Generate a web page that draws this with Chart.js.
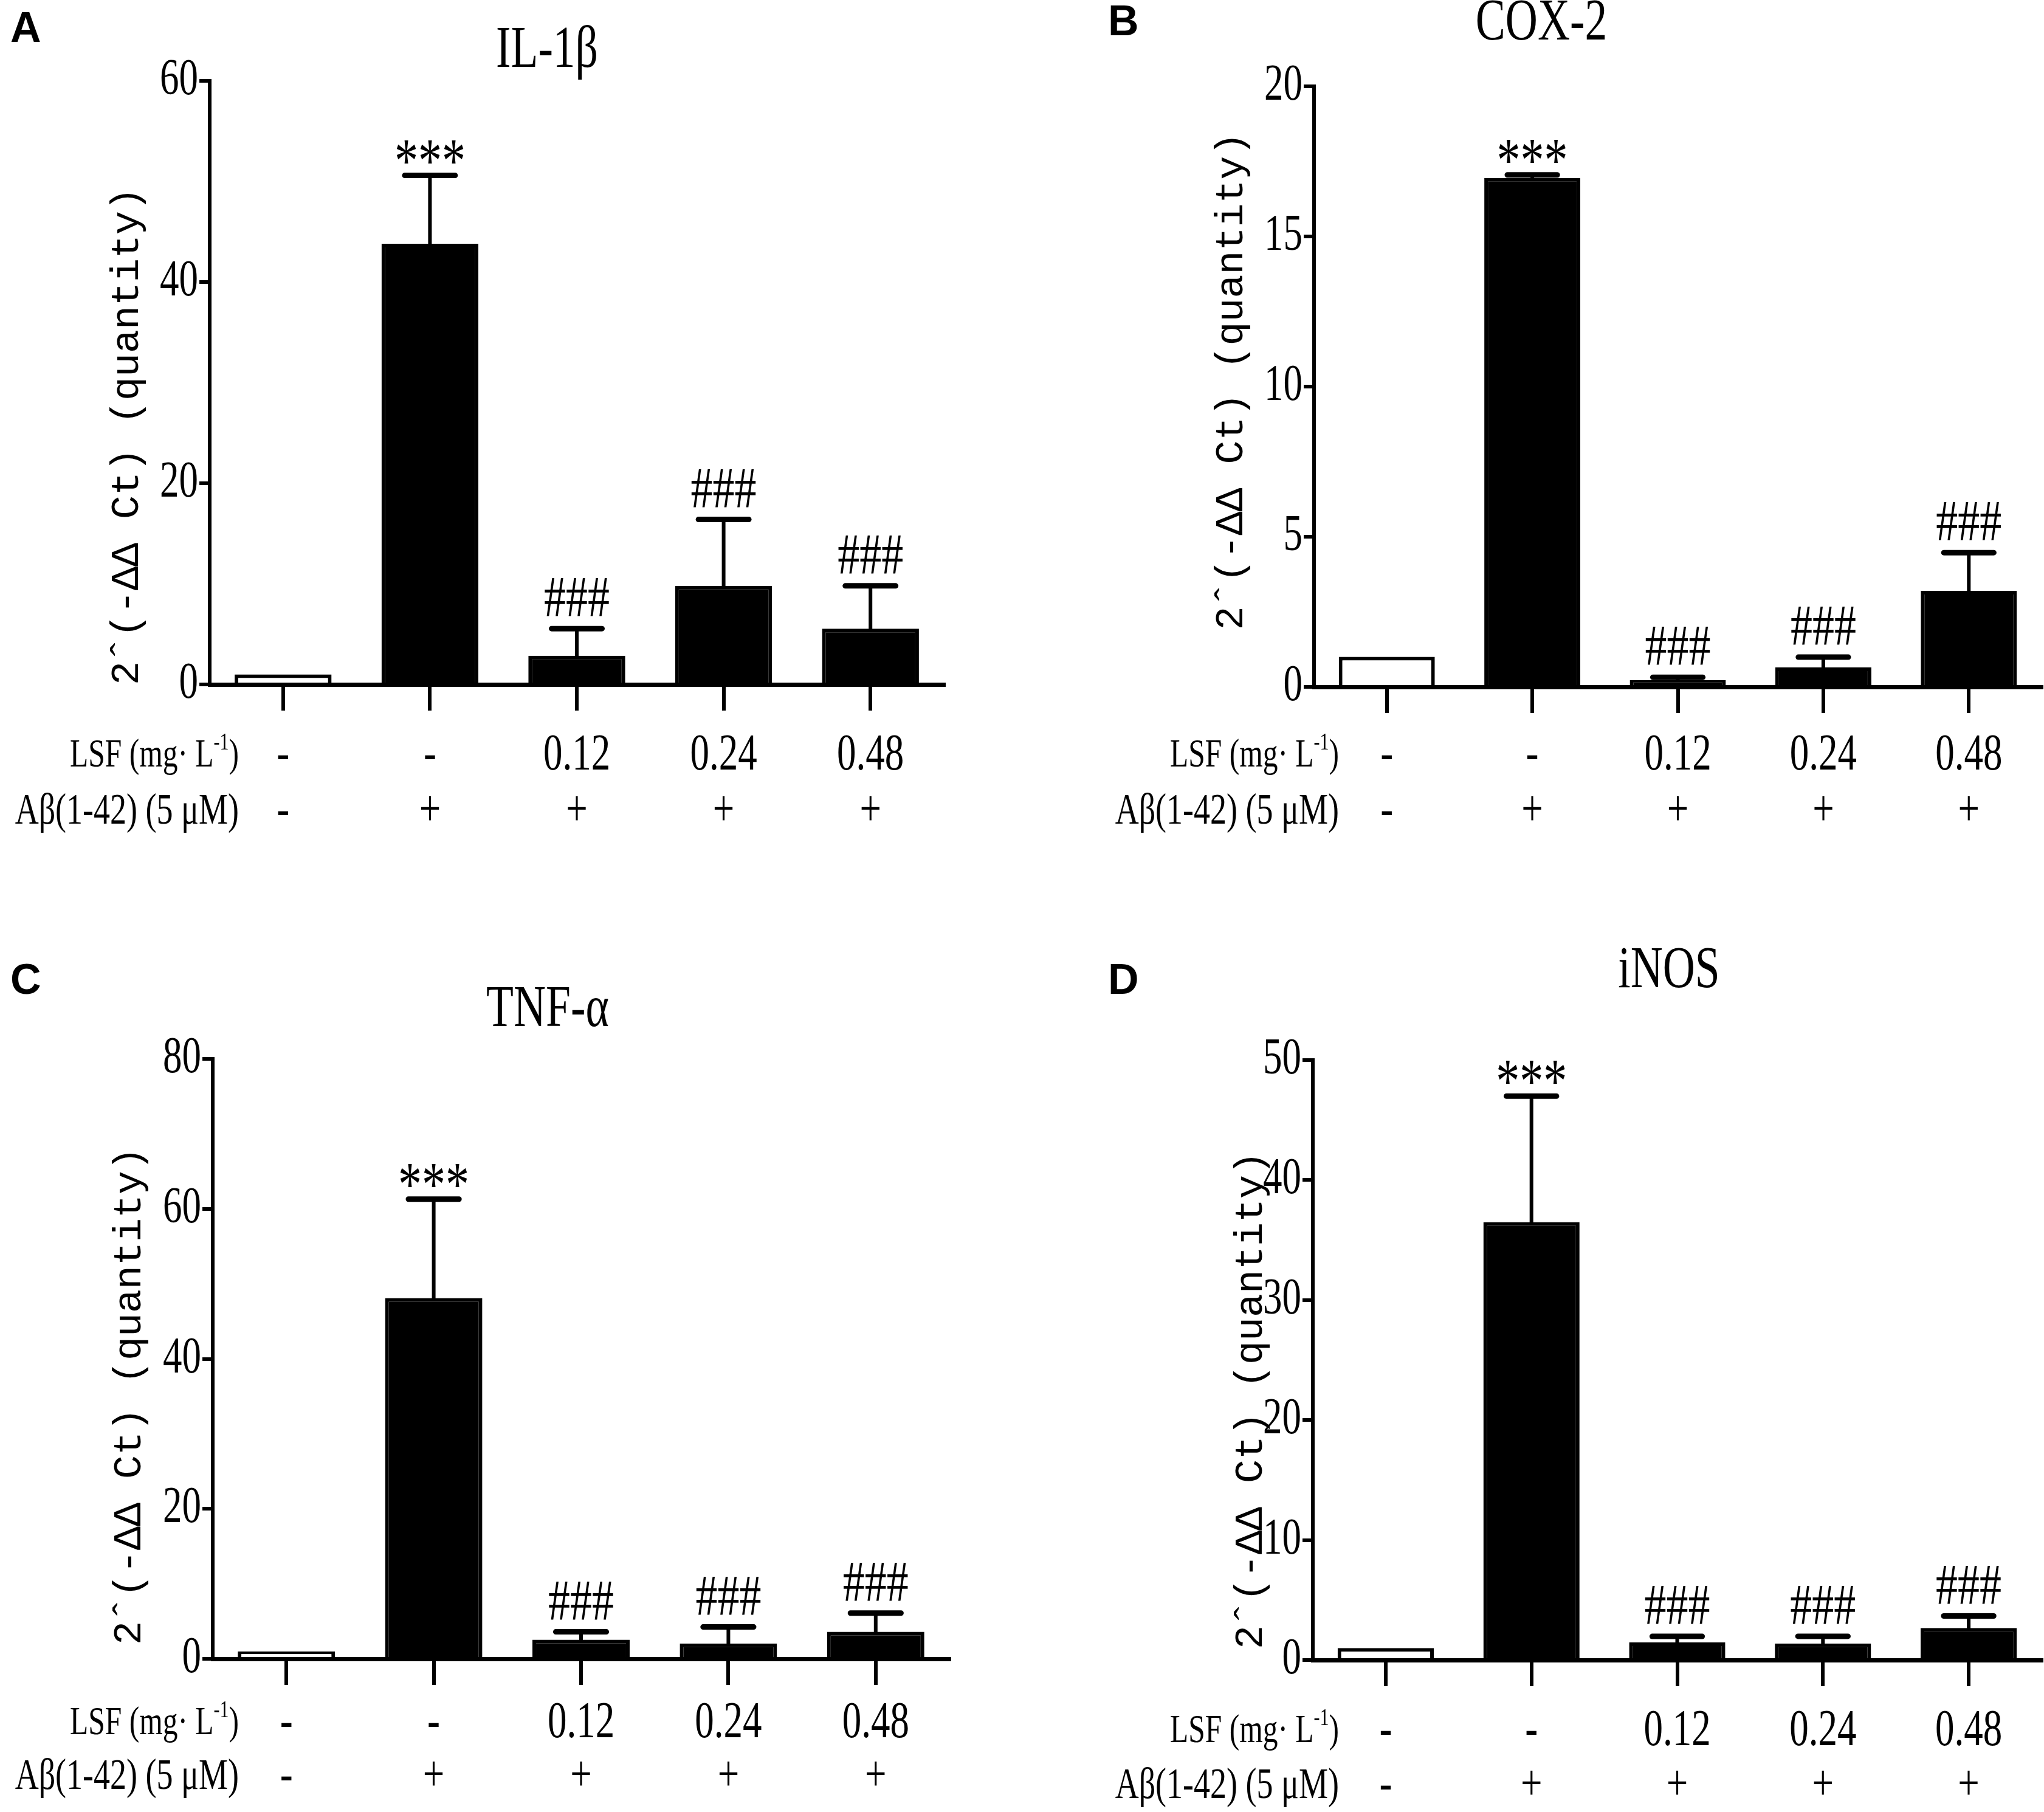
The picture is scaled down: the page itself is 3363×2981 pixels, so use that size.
<!DOCTYPE html>
<html>
<head>
<meta charset="utf-8">
<script src="https://cdn.jsdelivr.net/npm/chart.js@4.4.1/dist/chart.umd.min.js"></script>
<style>
  html, body { margin: 0; padding: 0; background: #fff; }
  #page { position: relative; width: 3363px; height: 2981px; background: #fff; overflow: hidden; }
  canvas { position: absolute; }
</style>
</head>
<body>
<div id="page">
  <canvas id="chartA" width="1680" height="1490" style="left:0px;top:0px"></canvas>
  <canvas id="chartB" width="1683" height="1490" style="left:1680px;top:0px"></canvas>
  <canvas id="chartC" width="1680" height="1491" style="left:0px;top:1490px"></canvas>
  <canvas id="chartD" width="1683" height="1491" style="left:1680px;top:1490px"></canvas>
</div>
<script>
// groups along the x axis (treatment table under each panel)
const lsfDose = ['-', '-', '0.12', '0.24', '0.48'];
const abeta = ['-', '+', '+', '+', '+'];
const marks = ['', '***', '###', '###', '###'];

// mean and upper error (SD)
const il1bMean = [1.0, 43.8, 2.85, 9.8, 5.55];
const il1bErr = [0, 6.8, 2.7, 6.6, 4.25];
const cox2Mean = [1.0, 16.95, 0.23, 0.65, 3.2];
const cox2Err = [0, 0.1, 0.09, 0.34, 1.27];
const tnfaMean = [1.0, 48.1, 2.55, 2.05, 3.6];
const tnfaErr = [0, 13.2, 1.05, 2.2, 2.5];
const inosMean = [1.0, 36.5, 1.47, 1.38, 2.67];
const inosErr = [0, 10.5, 0.5, 0.6, 1.0];

// y tick labels
const il1bTicks = [0, 20, 40, 60];
const cox2Ticks = [0, 5, 10, 15, 20];
const tnfaTicks = [0, 20, 40, 60, 80];
const inosTicks = [0, 10, 20, 30, 40, 50];

const serif = '"Liberation Serif", "Times New Roman", serif';
const mono = '"Liberation Mono", "Courier New", monospace';
const yTitle = '2\u02C6(-\u0394\u0394 Ct) (quantity)';
const narrow = 0.75; // the figure uses a condensed Times

Chart.defaults.font.family = serif;
Chart.defaults.color = '#000';

// placement of each panel inside its canvas
const panels = {
  chartA: { letter: 'A', title: 'IL-1\u03B2', mean: il1bMean, err: il1bErr, ticks: il1bTicks,
    left: 345, top: 133, bottom: 1126, right: 1553, titleX: 900, titleY: 84,
    letterX: 17, letterY: 69, rowRight: 393, labelX: 210, labelShift: 88, row1: 1244, rowGap: 92 },
  chartB: { letter: 'B', title: 'COX-2', mean: cox2Mean, err: cox2Err, ticks: cox2Ticks,
    left: 482, top: 142, bottom: 1130, right: 1679, titleX: 856, titleY: 39,
    letterX: 143, letterY: 58, rowRight: 523, labelX: 347, labelShift: -9, row1: 1244, rowGap: 92 },
  chartC: { letter: 'C', title: 'TNF-\u03B1', mean: tnfaMean, err: tnfaErr, ticks: tnfaTicks,
    left: 350, top: 252, bottom: 1239, right: 1562, titleX: 901, titleY: 172,
    letterX: 17, letterY: 145, rowRight: 393, labelX: 214, labelShift: 61, row1: 1346, rowGap: 88 },
  chartD: { letter: 'D', title: 'iNOS', mean: inosMean, err: inosErr, ticks: inosTicks,
    left: 480, top: 254, bottom: 1241, right: 1679, titleX: 1066, titleY: 108,
    letterX: 143, letterY: 145, rowRight: 523, labelX: 379, labelShift: 66, row1: 1359, rowGap: 90 }
};

// condensed text, returns drawn width
function cText(ctx, str, x, y, size, align, family, sx) {
  ctx.save();
  ctx.font = size + 'px ' + (family || serif);
  ctx.textAlign = align;
  ctx.translate(x, y);
  ctx.scale(sx, 1);
  ctx.fillText(str, 0, 0);
  const w = ctx.measureText(str).width * sx;
  ctx.restore();
  return w;
}

const decorPlugin = {
  id: 'decor',
  afterDatasetsDraw(chart) {
    const p = panels[chart.canvas.id];
    const ctx = chart.ctx;
    const y = chart.scales.y;
    const meta = chart.getDatasetMeta(0);
    ctx.save();
    ctx.strokeStyle = '#000';
    ctx.fillStyle = '#000';
    ctx.lineCap = 'round';
    meta.data.forEach((bar, i) => {
      const yTop = y.getPixelForValue(p.mean[i] + p.err[i]);
      if (p.err[i] > 0) {
        ctx.lineWidth = 6;
        ctx.beginPath();
        ctx.moveTo(bar.x, y.getPixelForValue(p.mean[i]));
        ctx.lineTo(bar.x, yTop);
        ctx.stroke();
        const half = bar.width * 0.26;
        ctx.lineWidth = 9;
        ctx.beginPath();
        ctx.moveTo(bar.x - half, yTop);
        ctx.lineTo(bar.x + half, yTop);
        ctx.stroke();
      }
      if (marks[i]) {
        const size = marks[i] === '***' ? 104 : 96;
        ctx.font = size + 'px ' + serif;
        const m = ctx.measureText(marks[i]);
        ctx.textBaseline = 'alphabetic';
        cText(ctx, marks[i], bar.x, yTop - 20 - m.actualBoundingBoxDescent, size, 'center', serif, narrow);
      }
    });
    ctx.restore();
  },
  afterDraw(chart) {
    const p = panels[chart.canvas.id];
    const ctx = chart.ctx;
    const area = chart.chartArea;
    const xs = chart.scales.x;
    const ys = chart.scales.y;
    ctx.save();
    ctx.fillStyle = '#000';

    // panel letter
    ctx.font = 'bold 70px "Liberation Sans", Arial, sans-serif';
    ctx.textAlign = 'left';
    ctx.textBaseline = 'alphabetic';
    ctx.fillText(p.letter, p.letterX, p.letterY);

    // title
    ctx.textBaseline = 'middle';
    cText(ctx, p.title, p.titleX, p.titleY, 98, 'center', serif, narrow);

    // y tick labels
    ys.ticks.forEach(t => {
      cText(ctx, String(t.value), area.left - 19, ys.getPixelForValue(t.value), 84, 'right', serif, narrow);
    });

    // y axis title
    ctx.save();
    ctx.translate(p.labelX, (area.top + area.bottom) / 2 + p.labelShift);
    ctx.rotate(-Math.PI / 2);
    ctx.font = '65px ' + mono;
    ctx.textAlign = 'center';
    ctx.fillText(yTitle, 0, 0);
    ctx.restore();

    // treatment table under the x axis
    const row1 = p.row1;
    const row2 = row1 + p.rowGap;
    xs.ticks.forEach((t, i) => {
      const x = xs.getPixelForValue(i);
      cText(ctx, lsfDose[i], x, row1, 84, 'center', serif, narrow);
      cText(ctx, abeta[i], x, row2, 84, 'center', serif, narrow);
    });
    let x = p.rowRight;
    x -= cText(ctx, ')', x, row1, 66, 'right', serif, narrow);
    x -= cText(ctx, '-1', x, row1 - 22, 40, 'right', serif, narrow);
    cText(ctx, 'LSF (mg\u00B7 L', x, row1, 66, 'right', serif, narrow);
    cText(ctx, 'A\u03B2(1-42) (5 \u03BCM)', p.rowRight, row2, 72, 'right', serif, narrow);
    ctx.restore();
  }
};

function makeChart(id) {
  const p = panels[id];
  const canvas = document.getElementById(id);
  const W = canvas.width, H = canvas.height;
  new Chart(canvas, {
    type: 'bar',
    data: {
      labels: lsfDose.map((d, i) => [d, abeta[i]]),
      datasets: [{
        data: p.mean,
        backgroundColor: p.mean.map((v, i) => i === 0 ? '#ffffff' : '#000000'),
        borderColor: '#000',
        borderWidth: 6,
        barPercentage: 0.66,
        categoryPercentage: 1
      }]
    },
    options: {
      responsive: false,
      animation: false,
      devicePixelRatio: 1,
      layout: { padding: { left: 0, top: p.top, right: W - p.right, bottom: 0 } },
      plugins: { legend: { display: false }, tooltip: { enabled: false }, title: { display: false } },
      scales: {
        x: {
          grid: { offset: false, drawOnChartArea: false, drawTicks: true, tickLength: 43, lineWidth: 6, color: '#000' },
          border: { display: true, color: '#000', width: 7 },
          ticks: { display: false, autoSkip: false },
          afterFit: (scale) => { scale.height = H - p.bottom; }
        },
        y: {
          min: p.ticks[0],
          max: p.ticks[p.ticks.length - 1],
          afterBuildTicks: (scale) => { scale.ticks = p.ticks.map(v => ({ value: v })); },
          grid: { drawOnChartArea: false, drawTicks: true, tickLength: 17, lineWidth: 6, color: '#000' },
          border: { display: true, color: '#000', width: 6 },
          ticks: { display: false },
          afterFit: (scale) => { scale.width = p.left; }
        }
      }
    },
    plugins: [decorPlugin]
  });
}

['chartA', 'chartB', 'chartC', 'chartD'].forEach(makeChart);
</script>
</body>
</html>
